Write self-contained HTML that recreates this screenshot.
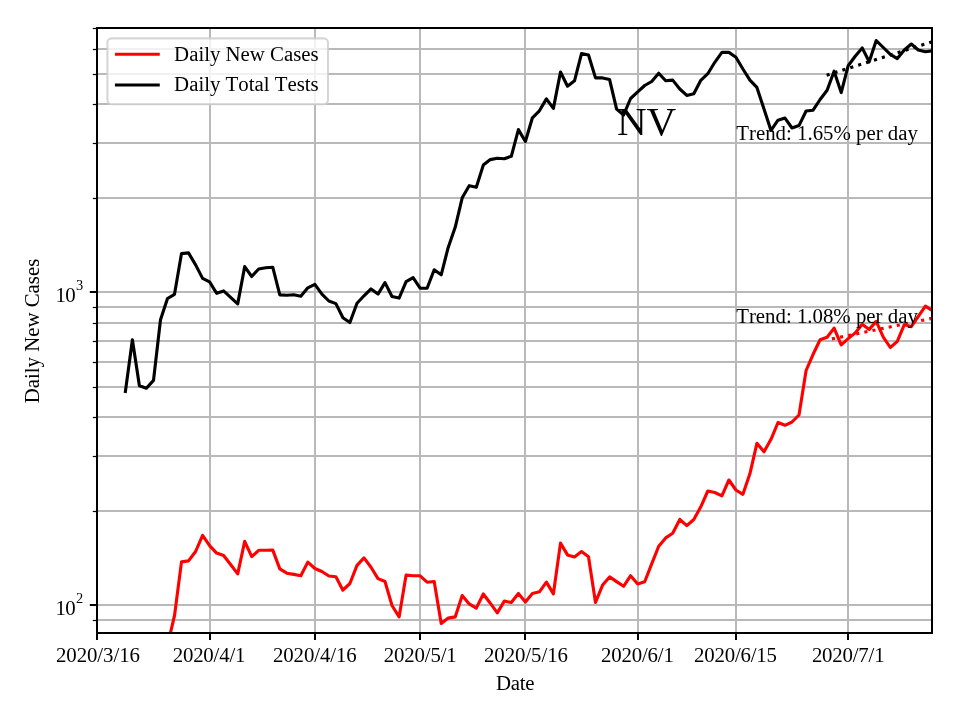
<!DOCTYPE html>
<html lang="en">
<head>
<meta charset="utf-8">
<title>NV Daily New Cases and Daily Total Tests</title>
<style>
html,body{margin:0;padding:0;background:#fff;}
body{width:960px;height:720px;overflow:hidden;font-family:"Liberation Serif",serif;}
svg{display:block;}
svg text{font-family:"Liberation Serif",serif;font-size:20.83px;fill:#000;font-kerning:none;}
</style>
</head>
<body>
<svg width="960" height="720" viewBox="0 0 960 720">
<defs><clipPath id="ax"><rect x="97.0" y="28.0" width="835.0" height="605.0"/></clipPath></defs>
<rect x="0" y="0" width="960" height="720" fill="#ffffff"/>
<g stroke="#b9b9b9" stroke-width="2" fill="none">
<line x1="97.0" y1="28.0" x2="97.0" y2="633.0"/>
<line x1="210.0" y1="28.0" x2="210.0" y2="633.0"/>
<line x1="315.0" y1="28.0" x2="315.0" y2="633.0"/>
<line x1="420.0" y1="28.0" x2="420.0" y2="633.0"/>
<line x1="525.0" y1="28.0" x2="525.0" y2="633.0"/>
<line x1="638.0" y1="28.0" x2="638.0" y2="633.0"/>
<line x1="736.0" y1="28.0" x2="736.0" y2="633.0"/>
<line x1="848.0" y1="28.0" x2="848.0" y2="633.0"/>
<line x1="97.0" y1="620.0" x2="932.0" y2="620.0"/>
<line x1="97.0" y1="511.0" x2="932.0" y2="511.0"/>
<line x1="97.0" y1="456.0" x2="932.0" y2="456.0"/>
<line x1="97.0" y1="417.0" x2="932.0" y2="417.0"/>
<line x1="97.0" y1="387.0" x2="932.0" y2="387.0"/>
<line x1="97.0" y1="362.0" x2="932.0" y2="362.0"/>
<line x1="97.0" y1="341.0" x2="932.0" y2="341.0"/>
<line x1="97.0" y1="323.0" x2="932.0" y2="323.0"/>
<line x1="97.0" y1="307.0" x2="932.0" y2="307.0"/>
<line x1="97.0" y1="198.0" x2="932.0" y2="198.0"/>
<line x1="97.0" y1="143.0" x2="932.0" y2="143.0"/>
<line x1="97.0" y1="104.0" x2="932.0" y2="104.0"/>
<line x1="97.0" y1="74.0" x2="932.0" y2="74.0"/>
<line x1="97.0" y1="49.0" x2="932.0" y2="49.0"/>
<line x1="97.0" y1="28.0" x2="932.0" y2="28.0"/>
<line x1="97.0" y1="605.0" x2="932.0" y2="605.0"/>
<line x1="97.0" y1="292.0" x2="932.0" y2="292.0"/>
</g>
<g stroke="#000" stroke-width="2" fill="none">
<line x1="97.0" y1="633.0" x2="97.0" y2="640.0"/>
<line x1="210.0" y1="633.0" x2="210.0" y2="640.0"/>
<line x1="315.0" y1="633.0" x2="315.0" y2="640.0"/>
<line x1="420.0" y1="633.0" x2="420.0" y2="640.0"/>
<line x1="525.0" y1="633.0" x2="525.0" y2="640.0"/>
<line x1="638.0" y1="633.0" x2="638.0" y2="640.0"/>
<line x1="736.0" y1="633.0" x2="736.0" y2="640.0"/>
<line x1="848.0" y1="633.0" x2="848.0" y2="640.0"/>
<line x1="89.8" y1="605.0" x2="97.0" y2="605.0"/>
<line x1="89.8" y1="292.0" x2="97.0" y2="292.0"/>
</g>
<g stroke="#000" stroke-width="1.25" fill="none">
<line x1="92.8" y1="620.5" x2="97.0" y2="620.5"/>
<line x1="92.8" y1="511.5" x2="97.0" y2="511.5"/>
<line x1="92.8" y1="456.5" x2="97.0" y2="456.5"/>
<line x1="92.8" y1="417.5" x2="97.0" y2="417.5"/>
<line x1="92.8" y1="387.5" x2="97.0" y2="387.5"/>
<line x1="92.8" y1="362.5" x2="97.0" y2="362.5"/>
<line x1="92.8" y1="341.5" x2="97.0" y2="341.5"/>
<line x1="92.8" y1="323.5" x2="97.0" y2="323.5"/>
<line x1="92.8" y1="307.5" x2="97.0" y2="307.5"/>
<line x1="92.8" y1="198.5" x2="97.0" y2="198.5"/>
<line x1="92.8" y1="143.5" x2="97.0" y2="143.5"/>
<line x1="92.8" y1="104.5" x2="97.0" y2="104.5"/>
<line x1="92.8" y1="74.5" x2="97.0" y2="74.5"/>
<line x1="92.8" y1="49.5" x2="97.0" y2="49.5"/>
<line x1="92.8" y1="28.5" x2="97.0" y2="28.5"/>
</g>
<g clip-path="url(#ax)" fill="none" stroke-width="3.125" stroke-linejoin="round" stroke-linecap="square">
<polyline stroke="#ff0000" points="167.5,645.5 174.5,615.7 181.5,561.9 188.5,560.9 195.6,551.5 202.6,535.4 209.6,545.6 216.6,553.1 223.6,555.5 230.6,564.5 237.7,573.9 244.7,541.3 251.7,556.7 258.7,550.3 265.7,550.3 272.8,550.1 279.8,568.9 286.8,573.2 293.8,574.4 300.8,575.8 307.8,562.1 314.9,568.5 321.9,571.5 328.9,576.0 335.9,576.8 342.9,590.2 349.9,583.5 357.0,565.4 364.0,557.9 371.0,567.3 378.0,578.6 385.0,581.5 392.0,605.5 399.1,616.9 406.1,575.1 413.1,575.8 420.1,575.8 427.1,582.2 434.2,581.5 441.2,623.5 448.2,618.1 455.2,616.9 462.2,595.6 469.2,603.9 476.3,608.1 483.3,594.0 490.3,603.2 497.3,612.9 504.3,601.1 511.3,602.5 518.4,593.5 525.4,602.0 532.4,593.4 539.4,591.8 546.4,582.1 553.4,593.9 560.5,543.1 567.5,554.9 574.5,557.0 581.5,551.6 588.5,556.8 595.5,602.4 602.6,585.1 609.6,576.9 616.6,581.6 623.6,586.3 630.6,575.7 637.7,584.0 644.7,581.8 651.7,563.9 658.7,546.2 665.7,537.9 672.7,533.2 679.8,519.5 686.8,525.6 693.8,519.5 700.8,506.8 707.8,491.0 714.8,492.5 721.9,495.8 728.9,480.0 735.9,490.0 742.9,494.3 749.9,473.8 756.9,443.3 764.0,451.8 771.0,439.3 778.0,422.5 785.0,425.3 792.0,422.0 799.0,415.0 806.1,370.5 813.1,354.3 820.1,339.7 827.1,337.3 834.1,328.1 841.2,344.8 848.2,338.6 855.2,332.9 862.2,324.3 869.2,329.4 876.2,321.4 883.3,337.1 890.3,347.5 897.3,341.3 904.3,324.6 911.3,326.7 918.3,316.3 925.4,306.1 932.4,310.7"/>
<polyline stroke="#000000" points="125.4,391.5 132.4,339.8 139.4,385.8 146.4,388.2 153.5,380.4 160.5,319.7 167.5,298.5 174.5,294.3 181.5,253.6 188.5,252.9 195.6,264.9 202.6,278.4 209.6,281.9 216.6,293.3 223.6,290.9 230.6,297.3 237.7,303.9 244.7,266.6 251.7,276.5 258.7,269.0 265.7,267.8 272.8,267.3 279.8,294.9 286.8,295.2 293.8,294.8 300.8,296.2 307.8,287.8 314.9,284.4 321.9,294.1 328.9,301.0 335.9,303.6 342.9,317.7 349.9,322.5 357.0,303.3 364.0,295.8 371.0,288.9 378.0,294.1 385.0,282.6 392.0,296.5 399.1,298.1 406.1,281.6 413.1,277.6 420.1,288.2 427.1,288.2 434.2,269.8 441.2,274.8 448.2,247.4 455.2,227.3 462.2,197.8 469.2,185.7 476.3,187.3 483.3,165.1 490.3,159.6 497.3,158.2 504.3,158.7 511.3,156.3 518.4,129.6 525.4,141.5 532.4,117.8 539.4,110.8 546.4,98.9 553.4,108.4 560.5,72.0 567.5,86.2 574.5,80.8 581.5,53.6 588.5,55.0 595.5,77.9 602.6,77.9 609.6,79.6 616.6,109.1 623.6,115.0 630.6,98.5 637.7,91.9 644.7,85.5 651.7,81.5 658.7,73.2 665.7,80.8 672.7,80.1 679.8,89.0 686.8,95.4 693.8,93.8 700.8,80.3 707.8,73.7 714.8,62.3 721.9,52.4 728.9,52.4 735.9,57.2 742.9,69.0 749.9,80.1 756.9,87.4 764.0,109.1 771.0,130.4 778.0,120.2 785.0,118.1 792.0,128.0 799.0,125.6 806.1,111.0 813.1,110.2 820.1,99.5 827.1,90.2 834.1,71.2 841.2,92.6 848.2,65.7 855.2,56.3 862.2,47.9 869.2,61.8 876.2,40.6 883.3,47.5 890.3,54.4 897.3,58.6 904.3,50.0 911.3,44.0 918.3,50.0 925.4,51.7 932.4,50.8"/>
<line stroke="#ff0000" stroke-linecap="butt" stroke-dasharray="3.125 5.156" x1="831.9" y1="338.9" x2="932.5" y2="318.2"/>
<line stroke="#000000" stroke-linecap="butt" stroke-dasharray="3.125 5.156" x1="826.6" y1="75.3" x2="933.2" y2="41.5"/>
</g>
<rect x="97.0" y="28.0" width="835.0" height="605.0" fill="none" stroke="#000" stroke-width="2"/>
<g>
<text x="55.9" y="662.2" textLength="84.1" lengthAdjust="spacing">2020/3/16</text>
<text x="172.7" y="662.2" textLength="72.7" lengthAdjust="spacing">2020/4/1</text>
<text x="272.9" y="662.2" textLength="83.8" lengthAdjust="spacing">2020/4/16</text>
<text x="383.8" y="662.2" textLength="72.9" lengthAdjust="spacing">2020/5/1</text>
<text x="484.0" y="662.2" textLength="83.9" lengthAdjust="spacing">2020/5/16</text>
<text x="600.9" y="662.2" textLength="72.9" lengthAdjust="spacing">2020/6/1</text>
<text x="694.0" y="662.2" textLength="83.0" lengthAdjust="spacing">2020/6/15</text>
<text x="811.9" y="662.2" textLength="72.7" lengthAdjust="spacing">2020/7/1</text>
<text x="55.6" y="615.1" textLength="20.1" lengthAdjust="spacing">10</text><text x="76.1" y="602.8" style="font-size:14.4px">2</text>
<text x="55.6" y="302.1" textLength="20.1" lengthAdjust="spacing">10</text><text x="76.1" y="289.8" style="font-size:14.4px">3</text>
<text x="495.9" y="689.5" textLength="38.5" lengthAdjust="spacing">Date</text>
<text transform="translate(39.0,331) rotate(-90)" text-anchor="middle">Daily New Cases</text>
<text x="616.9" y="134.8" style="font-size:41.1px">NV</text>
<text x="736.3" y="140.2">Trend: 1.65% per day</text>
<text x="736.2" y="322.6">Trend: 1.08% per day</text>
</g>
<g>
<rect x="107.4" y="38.4" width="220.6" height="65.8" rx="4.2" ry="4.2" fill="#ffffff" fill-opacity="0.8" stroke="#cccccc" stroke-opacity="0.8" stroke-width="2.08"/>
<line x1="116.5" y1="54.3" x2="158.2" y2="54.3" stroke="#ff0000" stroke-width="3.125" stroke-linecap="square"/>
<line x1="116.5" y1="85" x2="158.2" y2="85" stroke="#000000" stroke-width="3.125" stroke-linecap="square"/>
<text x="174.1" y="60.8">Daily New Cases</text>
<text x="174.1" y="91.3">Daily Total Tests</text>
</g>
</svg>
</body>
</html>
